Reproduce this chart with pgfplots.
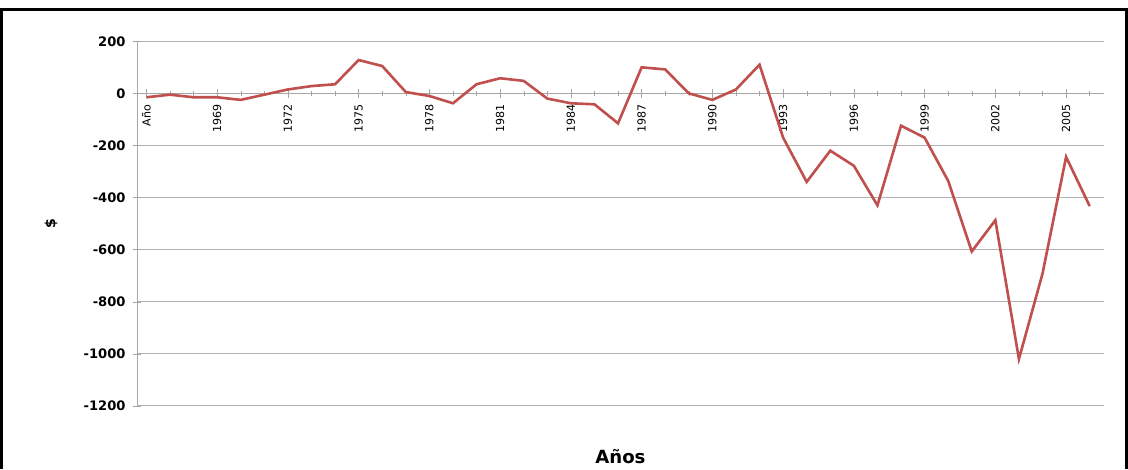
\documentclass[border=0pt]{standalone}
\usepackage{pgfplots}
\pgfplotsset{compat=1.18}
\usepackage{fontspec}
\setmainfont{DejaVu Sans}
\begin{document}
\begin{tikzpicture}
\path[use as bounding box] (-68pt,-31.5pt) rectangle (492pt,201.5pt);
\draw[line width=1.5pt] (-67.5pt,-31.5pt) -- (-67.5pt,197pt) -- (491.5pt,197pt) -- (491.5pt,-31.5pt);
\begin{axis}[at={(0,0)}, anchor=south west, scale only axis,
 width=480pt, height=181pt,
 xmin=-0.4, xmax=40.6, ymin=-1200, ymax=200,
 axis y line=left, axis x line=middle, axis line style={-, gray!70},
 ytick={-1200,-1000,...,200}, ymajorgrids, grid style={gray!60},
 xtick={0,3,...,39}, xticklabels={Año,1969,1972,1975,1978,1981,1984,1987,1990,1993,1996,1999,2002,2005},
 minor xtick={0,...,40}, tick style={gray!70},
 xticklabel style={rotate=90, anchor=east, font=\fontsize{5.5}{7}\selectfont},
 yticklabel style={font=\fontsize{6.5}{8}\selectfont\bfseries},
 /pgf/number format/assume math mode=true,
 /pgf/number format/1000 sep={},
 ylabel={\bfseries\$}, ylabel style={font=\fontsize{7}{8}\selectfont, at={(axis description cs:-0.075,0.5)}},
 xlabel={Años}, xlabel style={font=\fontsize{9}{10}\selectfont\bfseries, at={(axis description cs:0.5,-0.1)}, anchor=north},
]
\addplot[color={rgb,255:red,192;green,80;blue,77}, line width=1.3pt, no marks] coordinates {
(0,-15)(1,-5)(2,-15)(3,-15)(4,-25)(5,-5)(6,15)(7,28)(8,35)(9,128)(10,105)
(11,5)(12,-10)(13,-38)(14,35)(15,58)(16,48)(17,-20)(18,-38)(19,-42)(20,-115)
(21,100)(22,92)(23,0)(24,-25)(25,15)(26,110)(27,-170)(28,-340)(29,-220)(30,-278)
(31,-430)(32,-124)(33,-170)(34,-336)(35,-607)(36,-487)(37,-1020)(38,-692)(39,-244)(40,-433)};
\end{axis}
\end{tikzpicture}
\end{document}
